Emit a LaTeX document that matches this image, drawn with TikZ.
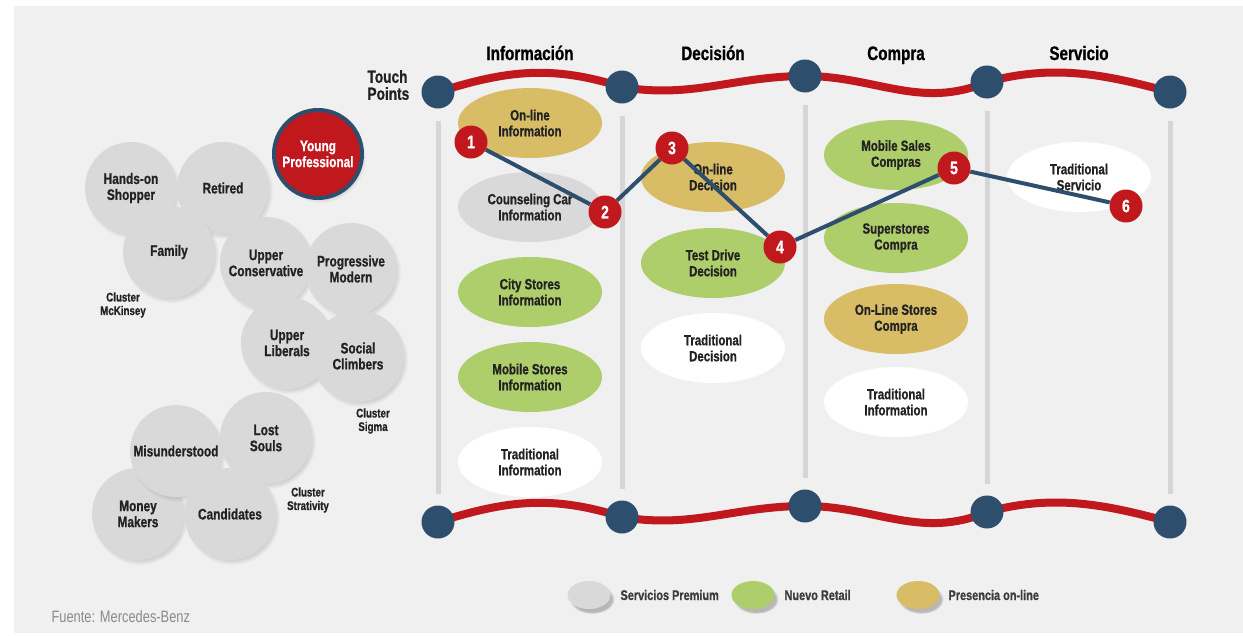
\documentclass[tikz,border=0pt]{standalone}
\usepackage{fontspec}
\setmainfont{Liberation Sans}[FakeStretch=0.78, BoldFeatures={FakeBold=0.8}]
\usetikzlibrary{shapes.geometric,shadows}

\definecolor{panel}{HTML}{F0F0F0}
\definecolor{lanegrey}{HTML}{D6D6D6}
\definecolor{wavered}{HTML}{C0181C}
\definecolor{tpblue}{HTML}{2E4E6E}
\definecolor{onlinegold}{HTML}{D9BD66}
\definecolor{retailgreen}{HTML}{AECD6B}
\definecolor{premgrey}{HTML}{D9D9D9}
\definecolor{ink}{HTML}{222222}
\definecolor{keyink}{HTML}{3C3C3C}
\definecolor{source}{HTML}{8A8A8A}

\pgfdeclarelayer{paper}
\pgfdeclarelayer{lines}
\pgfsetlayers{paper,lines,main}

\tikzset{
  chan/.style={ellipse, minimum width=144pt, minimum height=70pt, inner sep=0pt,
    align=center, text=ink, font=\bfseries\fontsize{14.7}{16}\selectfont},
  premium/.style={chan, fill=premgrey},
  retail/.style={chan, fill=retailgreen},
  online/.style={chan, fill=onlinegold},
  trad/.style={chan, fill=white},
  persona/.style={circle, minimum size=92pt, inner sep=0pt, fill=premgrey,
    align=center, text=ink, font=\bfseries\fontsize{15.2}{16}\selectfont,
    circular drop shadow={shadow xshift=2pt, shadow yshift=-3pt, shadow scale=1.04, opacity=.35}},
  touch/.style={circle, minimum size=33pt, inner sep=0pt, fill=tpblue},
  stepdot/.style={circle, minimum size=33pt, inner sep=0pt, fill=wavered,
    text=white, font=\bfseries\fontsize{18}{18}\selectfont},
  wave/.style={draw=wavered, line width=8pt},
  lane/.style={draw=lanegrey, line width=5pt},
  route/.style={draw=tpblue, line width=4pt},
  phase/.style={anchor=base, font=\bfseries\fontsize{19.5}{19.5}\selectfont, text=black},
  cluster/.style={align=center, text=ink, font=\bfseries\fontsize{12.5}{13.5}\selectfont},
  legendmark/.style={ellipse, minimum width=43pt, minimum height=28pt, inner sep=0pt,
    circular drop shadow={shadow xshift=3pt, shadow yshift=-4pt, shadow scale=1.05, opacity=.5}},
  legendtext/.style={anchor=west, text=keyink, font=\bfseries\fontsize{14}{14}\selectfont},
}

\begin{document}
\begin{tikzpicture}[x=1pt,y=-1pt]
  \useasboundingbox (0,0) rectangle (1243,635);
  \begin{pgfonlayer}{paper}
    \fill[panel] (14,6) rectangle (1243,633);
  \end{pgfonlayer}

  % phases
  \node[phase] (ph1) at (530,60) {Información};
  \node[phase] (ph2) at (713,60) {Decisión};
  \node[phase] (ph3) at (896,60) {Compra};
  \node[phase] (ph4) at (1079,60) {Servicio};
  \node[anchor=west, align=left, text=ink, font=\bfseries\fontsize{17.5}{17}\selectfont] (tp) at (364,85) {Touch\\Points};

  % touch points, top and bottom
  \node[touch] (t1) at (438,92) {};
  \node[touch] (t2) at (622,87) {};
  \node[touch] (t3) at (805,76) {};
  \node[touch] (t4) at (987,82) {};
  \node[touch] (t5) at (1170,92) {};
  \node[touch] (b1) at (438,522) {};
  \node[touch] (b2) at (622,517) {};
  \node[touch] (b3) at (805,506) {};
  \node[touch] (b4) at (987,512) {};
  \node[touch] (b5) at (1170,522) {};

  \begin{pgfonlayer}{lines}
    \foreach \i in {1,...,5}
      \draw[lane] ([yshift=-12pt]t\i.south) -- ([yshift=11pt]b\i.north);
    \foreach \r in {t,b}
      \draw[wave] (\r1.center) .. controls +(70,-22) and +(-70,-22) .. (\r2.center)
        .. controls +(70,12) and +(-70,0) .. (\r3.center)
        .. controls +(70,0) and +(-66,28) .. (\r4.center)
        .. controls +(66,-18) and +(-66,-18) .. (\r5.center);
  \end{pgfonlayer}

  % channels
  \node[online]  (inf1) at (530,123) {On-line\\Information};
  \node[premium] (inf2) at (530,207) {Counseling Car\\Information};
  \node[retail]  (inf3) at (530,292) {City Stores\\Information};
  \node[retail]  (inf4) at (530,377) {Mobile Stores\\Information};
  \node[trad]    (inf5) at (530,462) {Traditional\\Information};

  \node[online]  (dec1) at (713,177) {On-line\\Decision};
  \node[retail]  (dec2) at (713,263) {Test Drive\\Decision};
  \node[trad]    (dec3) at (713,348) {Traditional\\Decision};

  \node[retail]  (com1) at (896,155) {Mobile Sales\\Compras};
  \node[retail]  (com2) at (896,238) {Superstores\\Compra};
  \node[online]  (com3) at (896,319) {On-Line Stores\\Compra};
  \node[trad]    (com4) at (896,402) {Traditional\\Information};

  \node[trad]    (ser1) at (1079,177) {Traditional\\Servicio};

  % journey
  \node[stepdot] (s1) at (471,142) {1};
  \node[stepdot] (s2) at (605,212) {2};
  \node[stepdot] (s3) at (672,148) {3};
  \node[stepdot] (s4) at (780,247) {4};
  \node[stepdot] (s5) at (954,168) {5};
  \node[stepdot] (s6) at (1126,206) {6};
  \draw[route] (s1) -- (s2) -- (s3) -- (s4) -- (s5) -- (s6);

  % segments
  \node[persona] (hands) at (131,188) {Hands-on\\Shopper};
  \node[persona] (retired) at (223,188) {Retired};
  \node[persona] (family) at (169,252) {Family};
  \node[persona] (upcons) at (266,263) {Upper\\Conservative};
  \node[persona] (progmod) at (351,269) {Progressive\\Modern};
  \node[persona] (uplib) at (287,343) {Upper\\Liberals};
  \node[persona] (social) at (358,356) {Social\\Climbers};
  \node[persona] (money) at (138,514) {Money\\Makers};
  \node[persona] (misund) at (176,451) {Misunderstood};
  \node[persona] (lost) at (266,438) {Lost\\Souls};
  \node[persona] (cand) at (230,514) {Candidates};
  \node[persona, fill=wavered, text=white, draw=tpblue, line width=4pt, minimum size=88pt] (young) at (318,154) {Young\\Professional};

  \node[cluster] (mck) at (123,305) {Cluster\\McKinsey};
  \node[cluster] (sig) at (373,421) {Cluster\\Sigma};
  \node[cluster] (strat) at (308,500) {Cluster\\Strativity};

  % legend
  \node[legendmark, fill=premgrey] (k1) at (589,595) {};
  \node[legendtext] at (617,595) {Servicios Premium};
  \node[legendmark, fill=retailgreen] (k2) at (753,595) {};
  \node[legendtext] at (781,595) {Nuevo Retail};
  \node[legendmark, fill=onlinegold] (k3) at (918,595) {};
  \node[legendtext] at (945,595) {Presencia on-line};

  \node[anchor=west, text=source, font=\fontsize{16.5}{15}\selectfont] (src) at (48,617) {Fuente: Mercedes-Benz};
\end{tikzpicture}
\end{document}
